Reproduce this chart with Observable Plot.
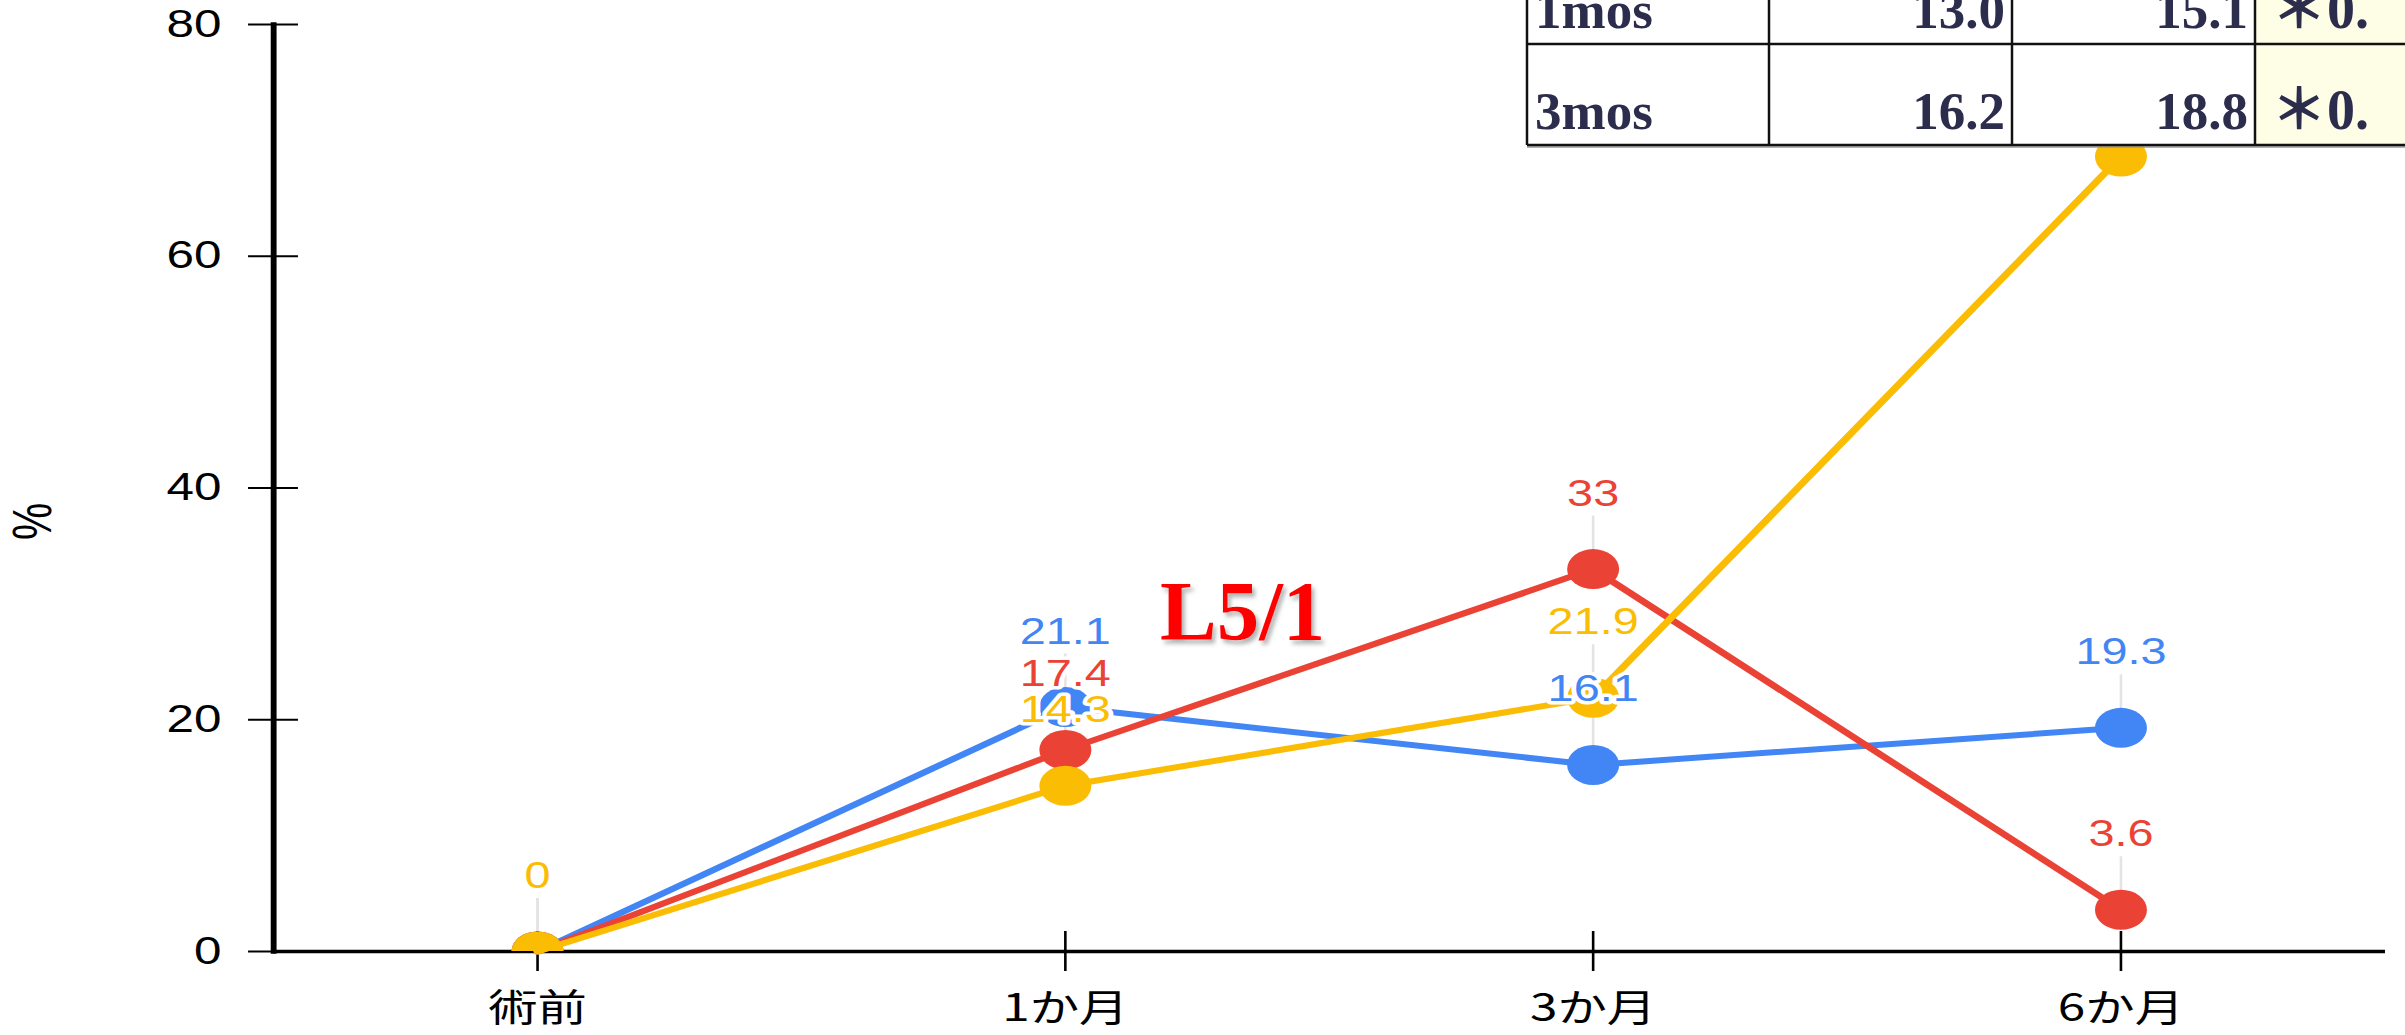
<!DOCTYPE html>
<html>
<head>
<meta charset="utf-8">
<script src="https://cdn.jsdelivr.net/npm/d3@7"></script>
<script src="https://cdn.jsdelivr.net/npm/@observablehq/plot@0.6"></script>
<style>
  html, body { margin: 0; padding: 0; background: #fff; overflow: hidden; }
  #wrap { position: relative; width: 2405px; height: 1035px; overflow: hidden; background: #fff; }
  #wrap > svg.overlay { position: absolute; left: 0; top: 0; pointer-events: none; }
</style>
</head>
<body>
<div id="wrap"></div>
<script>
// ---- data ----
const months = ["術前", "1か月", "3か月", "6か月"];
const blueValues = [0, 21.1, 16.1, 19.3];
const redValues = [0, 17.4, 33, 3.6];
const yellowValues = [0, 14.3, 21.9, 68.6];
const yTicks = [0, 20, 40, 60, 80];

// summary table in the top-right corner
const tableRows = ["1mos", "3mos"];
const tableColA = ["13.0", "16.2"];
const tableColB = ["15.1", "18.8"];
const tablePval = ["＊0.", "＊0."];

const annotation = "L5/1";
const yLabel = "%";

// ---- layout ----
const W = 2405, H = 1035;
const stretch = 1.3;              // the chart layer is drawn wide
const W0 = W / stretch;
const margin = {top: 24, right: 15.4, bottom: 84, left: 210};
const plotH = H - margin.top - margin.bottom;
const pxToY = 80 / plotH;

const series = [
  {key: "blue", color: "#4285F4", values: blueValues},
  {key: "red", color: "#EA4335", values: redValues},
  {key: "yellow", color: "#FBBC04", values: yellowValues}
];
const rows = series.flatMap(s => months.map((m, i) => ({key: s.key, color: s.color, month: m, value: s.values[i]})));
// the last yellow value sits under the table, so its label is not shown
const labelled = rows.filter(d => !(d.key === "yellow" && d.month === "6か月"));

const seriesMarks = series.flatMap(s => {
  const data = rows.filter(d => d.key === s.key);
  return [
    Plot.line(data, {x: "month", y: "value", stroke: s.color, strokeWidth: 6}),
    Plot.dot(data, {x: "month", y: "value", r: 20, fill: s.color, clip: true})
  ];
});

const chart = Plot.plot({
  width: W0,
  height: H,
  marginTop: margin.top,
  marginRight: margin.right,
  marginBottom: margin.bottom,
  marginLeft: margin.left,
  x: {type: "point", domain: months, padding: 0.5, axis: null},
  y: {domain: [0, 80], axis: null},
  style: {background: "#fff", color: "#000", overflow: "visible"},
  marks: [
    // leader lines between each value label and its point
    Plot.ruleX(labelled, {
      x: "month",
      y1: d => d.value + 19 * pxToY,
      y2: d => d.value + 53 * pxToY,
      stroke: "#e4e4e4",
      strokeWidth: 2
    }),
    // y axis: ticks on both sides of the axis line
    Plot.axisY({ticks: yTicks, tickSize: 19.2, tickPadding: 21, fontSize: 38, fontFamily: "Liberation Sans", label: null, strokeWidth: 2}),
    Plot.axisY({ticks: yTicks, tickSize: -19.2, tickFormat: () => "", label: null, strokeWidth: 2}),
    // x axis: ticks above and below the baseline
    Plot.axisX({tickSize: 20, tickPadding: 23, fontSize: 38, fontFamily: "Noto Sans CJK JP", label: null, strokeWidth: 2}),
    Plot.axisX({tickSize: -20, tickFormat: () => "", label: null, strokeWidth: 2}),
    Plot.frame({anchor: "left", stroke: "#000", strokeWidth: 4.5}),
    Plot.ruleY([0], {stroke: "#000", strokeWidth: 3.5}),
    Plot.text([yLabel], {frameAnchor: "left", rotate: -90, dx: -185, dy: 52, fontSize: 42, fontFamily: "Liberation Sans", fill: "#000"}),
    ...seriesMarks,
    // value labels with a white halo
    Plot.text(labelled, {
      x: "month",
      y: "value",
      text: d => String(d.value),
      dy: -75,
      fill: "color",
      stroke: "#fff",
      strokeWidth: 7,
      fontSize: 36,
      fontFamily: "Liberation Sans"
    })
  ]
});

chart.style.transform = `scaleX(${stretch})`;
chart.style.transformOrigin = "0 0";
chart.style.display = "block";
document.getElementById("wrap").appendChild(chart);

// ---- overlay: annotation and summary table ----
const overlay = d3.select("#wrap").append("svg")
  .attr("class", "overlay")
  .attr("width", W)
  .attr("height", H);

const defs = overlay.append("defs");
defs.append("filter").attr("id", "shadow")
  .attr("x", "-10%").attr("y", "-10%").attr("width", "130%").attr("height", "130%")
  .append("feDropShadow")
  .attr("dx", 3).attr("dy", 4).attr("stdDeviation", 2)
  .attr("flood-color", "#666").attr("flood-opacity", 0.5);

overlay.append("text")
  .attr("x", 1160).attr("y", 640)
  .attr("font-family", "Liberation Serif, Times New Roman, serif")
  .attr("font-weight", "bold")
  .attr("font-size", 85)
  .attr("fill", "#ff0000")
  .attr("filter", "url(#shadow)")
  .text(annotation);

const colEdges = [1527, 1769, 2012, 2255];
const rowEdges = [-57, 44, 145];
const ink = "#2c2c4c";
const table = overlay.append("g").attr("class", "table");

table.append("rect").attr("x", colEdges[0]).attr("y", 0).attr("width", W - colEdges[0]).attr("height", rowEdges[2]).attr("fill", "#fff");
table.append("rect").attr("x", colEdges[3]).attr("y", 0).attr("width", W - colEdges[3]).attr("height", rowEdges[2]).attr("fill", "#fefde6");
table.append("line").attr("x1", colEdges[0]).attr("x2", W).attr("y1", rowEdges[2] + 2).attr("y2", rowEdges[2] + 2).attr("stroke", "#999").attr("stroke-width", 1.5);

rowEdges.slice(1).forEach(y => {
  table.append("line").attr("x1", colEdges[0]).attr("x2", W).attr("y1", y).attr("y2", y).attr("stroke", "#111").attr("stroke-width", 2.5);
});
colEdges.forEach(x => {
  table.append("line").attr("x1", x).attr("x2", x).attr("y1", 0).attr("y2", rowEdges[2]).attr("stroke", "#111").attr("stroke-width", 2.5);
});

const cellText = (x, y, anchor, s, family, size) => table.append("text")
  .attr("x", x).attr("y", y)
  .attr("text-anchor", anchor)
  .attr("font-family", family || "Liberation Serif, Times New Roman, serif")
  .attr("font-weight", "bold")
  .attr("font-size", size || 53)
  .attr("fill", ink)
  .text(s);

tableRows.forEach((r, i) => {
  const base = rowEdges[i] + 85;
  cellText(colEdges[0] + 8, base, "start", r);
  cellText(colEdges[2] - 7, base, "end", tableColA[i]);
  cellText(colEdges[3] - 7, base, "end", tableColB[i]);
  cellText(colEdges[3] + 16, base, "start", tablePval[i], "Liberation Serif, Noto Sans CJK JP, serif", 56);
});
</script>
</body>
</html>
